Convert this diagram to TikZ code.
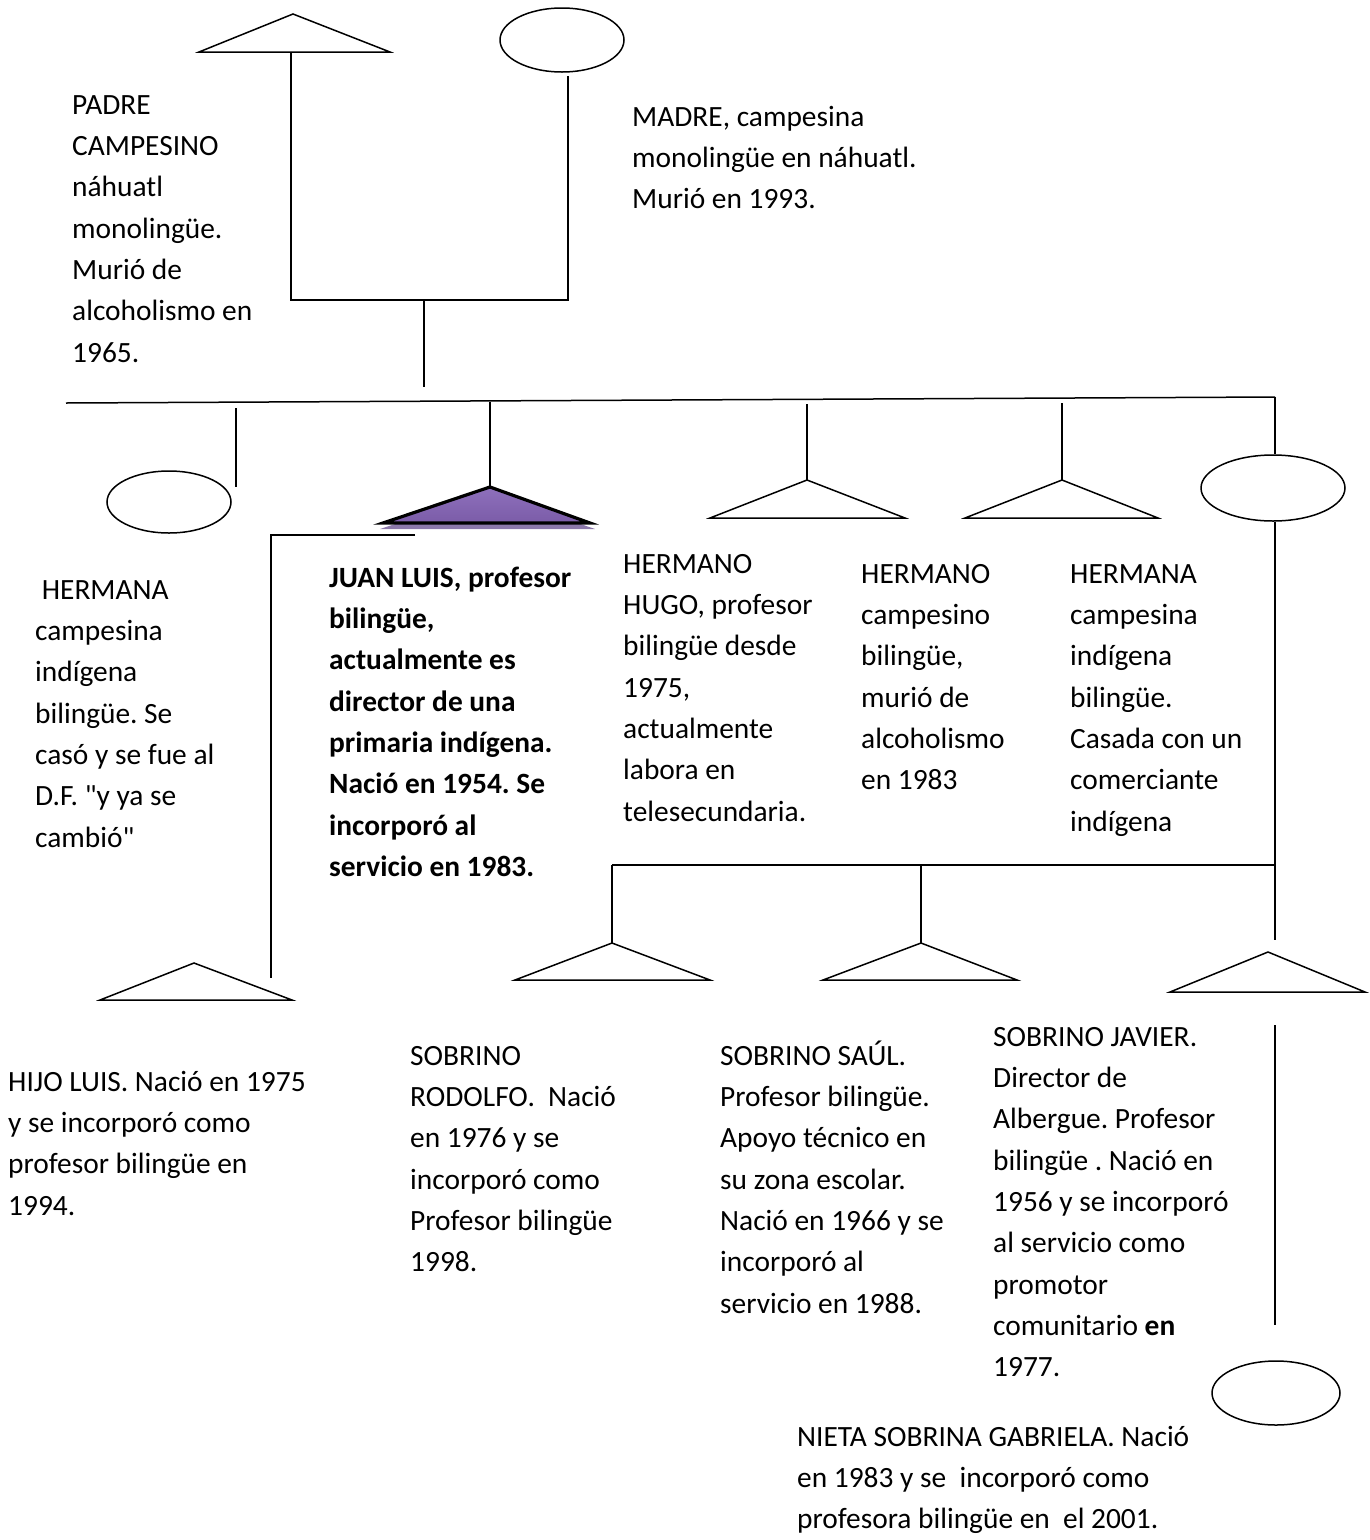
\documentclass[tikz,border=0pt]{standalone}
\usepackage{fontspec}
\setmainfont{Carlito}[Ligatures=TeXOff]
\usetikzlibrary{shapes.geometric}
\frenchspacing

\definecolor{juanfill}{HTML}{7B5CA8}
\definecolor{juantop}{HTML}{8E70BC}
\definecolor{juanshade}{HTML}{8C78AA}

\tikzset{
  lnk/.style={line width=1.5pt, black},
  female/.style={draw, line width=1.5pt, ellipse, inner sep=0pt},
  malesym/.style={draw, line width=1.5pt, line join=miter},
  note/.style={anchor=north west, inner sep=0pt, align=left,
               font=\fontsize{29.4}{41.3}\selectfont},
}
% strut that fixes the top of every text block 25pt above its first baseline
\newcommand\firstline{\rule{0pt}{25pt}}
% male symbol: name, apex x, apex y, left x, right x, base y
\newcommand\maletri[6]{%
  \coordinate (#1-top) at (#2,#3);
  \coordinate (#1-l) at (#4,#6);
  \coordinate (#1-r) at (#5,#6);
  \draw[malesym] (#1-top) -- (#1-r) -- (#1-l) -- cycle;}

\begin{document}
\begin{tikzpicture}[x=1pt, y=-1pt]
\useasboundingbox (0,0) rectangle (1369,1540);

% ---------- parents ----------
\maletri{padre}{293}{14}{199}{390}{52}
\node[female, minimum width=124pt, minimum height=64pt] (madre) at (562,40) {};

\coordinate (padre-foot) at (291,52);
\coordinate (pair-l) at (291,300);
\coordinate (pair-r) at (568,300);
\coordinate (madre-stem) at (568,76);
\coordinate (pair-m) at (424,300);
\coordinate (pair-drop) at (424,387);
\draw[lnk] (padre-foot) -- (pair-l) -- (pair-r) -- (madre-stem);
\draw[lnk] (pair-m) -- (pair-drop);

% ---------- siblings line ----------
\coordinate (sib-l) at (66,403);
\coordinate (sib-r) at (1275,397);
\draw[lnk] (sib-l) -- (sib-r);

% sister (left)
\node[female, minimum width=124pt, minimum height=62pt] (hermana1) at (169,502) {};
\coordinate (h1-a) at (236,408);
\coordinate (h1-b) at (236,487);
\draw[lnk] (h1-a) -- (h1-b);

% Juan Luis (highlighted)
\coordinate (juan-a) at (490,402);
\coordinate (juan-top) at (490,487);
\coordinate (juan-l) at (383,523);
\coordinate (juan-r) at (590,523);
\coordinate (juan-sl) at (380,529);
\coordinate (juan-sr) at (595,529);
\fill[juanshade] (juan-top) ++(0,6) -- (juan-sr) -- (juan-sl) -- cycle;
\draw[line width=3.2pt, line join=miter, top color=juantop, bottom color=juanfill]
  (juan-top) -- (juan-r) -- (juan-l) -- cycle;
\draw[lnk] (juan-a) -- (juan-top);

% Hugo
\maletri{hugo}{807}{480}{710}{905}{518}
\coordinate (hugo-a) at (807,404);
\draw[lnk] (hugo-a) -- (hugo-top);

% brother
\maletri{hermano}{1062}{480}{965}{1158}{518}
\coordinate (hermano-a) at (1062,403);
\draw[lnk] (hermano-a) -- (hermano-top);

% sister (right)
\node[female, minimum width=144pt, minimum height=66pt] (hermana2) at (1273,488) {};
\coordinate (h2-stem) at (1275,940);
\coordinate (h2-fam) at (1275,865);
\draw[lnk] (sib-r) -- (sib-r |- hermana2.north);
\draw[lnk] (sib-r |- hermana2.south) -- (h2-stem);

% her children
\coordinate (fam-l) at (612,865);
\coordinate (fam-m) at (921,865);
\draw[lnk] (h2-fam) -- (fam-l);
\maletri{rodolfo}{612}{943}{515}{710}{980}
\maletri{saul}{921}{943}{823}{1017}{980}
\draw[lnk] (fam-l) -- (rodolfo-top);
\draw[lnk] (fam-m) -- (saul-top);
\maletri{javier}{1268}{952}{1170}{1365}{992}

% Javier to Gabriela
\coordinate (jav-a) at (1275,1025);
\coordinate (jav-b) at (1275,1325);
\draw[lnk] (jav-a) -- (jav-b);
\node[female, minimum width=128pt, minimum height=64pt] (gabriela) at (1276,1393) {};

% Juan Luis to his son
\coordinate (son-a) at (415,535);
\coordinate (son-b) at (271,535);
\coordinate (son-c) at (271,978);
\draw[lnk] (son-a) -- (son-b) -- (son-c);
\maletri{hijo}{194}{963}{100}{292}{1000}

% ---------- texts ----------
\node[note] (t-padre) at (72,89) {\firstline PADRE\\CAMPESINO\\náhuatl\\monolingüe.\\Murió de\\alcoholismo en\\1965.};
\node[note] (t-madre) at (632,101) {\firstline MADRE, campesina\\monolingüe en náhuatl.\\Murió en 1993.};
\node[note] (t-hermana1) at (35,574) {\firstline\ HERMANA\\campesina\\indígena\\bilingüe. Se\\casó y se fue al\\D.F. "y ya se\\cambió"};
\node[note, font=\fontsize{29.4}{41.3}\selectfont\bfseries] (t-juan) at (329,562) {\firstline JUAN LUIS, profesor\\bilingüe,\\actualmente es\\director de una\\primaria indígena.\\Nació en 1954. Se\\incorporó al\\servicio en 1983.};
\node[note] (t-hugo) at (623,548) {\firstline HERMANO\\HUGO, profesor\\bilingüe desde\\1975,\\actualmente\\labora en\\telesecundaria.};
\node[note] (t-hermano) at (861,558) {\firstline HERMANO\\campesino\\bilingüe,\\murió de\\alcoholismo\\en 1983};
\node[note] (t-hermana2) at (1070,558) {\firstline HERMANA\\campesina\\indígena\\bilingüe.\\Casada con un\\comerciante\\indígena};
\node[note] (t-hijo) at (8,1066) {\firstline HIJO LUIS. Nació en 1975\\y se incorporó como\\profesor bilingüe en\\1994.};
\node[note] (t-rodolfo) at (410,1040) {\firstline SOBRINO\\RODOLFO.\ \ Nació\\en 1976 y se\\incorporó como\\Profesor bilingüe\\1998.};
\node[note] (t-saul) at (720,1040) {\firstline SOBRINO SAÚL.\\Profesor bilingüe.\\Apoyo técnico en\\su zona escolar.\\Nació en 1966 y se\\incorporó al\\servicio en 1988.};
\node[note] (t-javier) at (993,1021) {\firstline SOBRINO JAVIER.\\Director de\\Albergue. Profesor\\bilingüe . Nació en\\1956 y se incorporó\\al servicio como\\promotor\\comunitario \textbf{en}\\1977.};
\node[note] (t-gabriela) at (797,1421) {\firstline NIETA SOBRINA GABRIELA. Nació\\en 1983 y se\ \ incorporó como\\profesora bilingüe en\ \ el 2001.};
\end{tikzpicture}
\end{document}
